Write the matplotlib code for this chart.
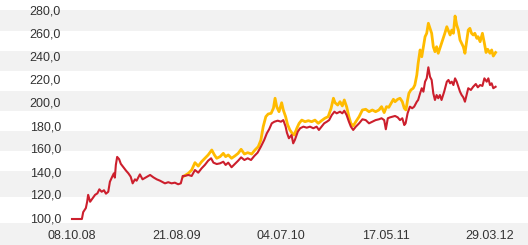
import matplotlib
matplotlib.use("Agg")
import matplotlib.pyplot as plt
import matplotlib.dates as mdates
from matplotlib.patches import Rectangle
import datetime as dt

# ---------------- data ----------------
start_date = "08.10.08"
x_tick_labels = ["08.10.08", "21.08.09", "04.07.10", "17.05.11", "29.03.12"]
y_ticks = [100, 120, 140, 160, 180, 200, 220, 240, 260, 280]

# days since start_date, and index values (red series)
red_days = [0, 30, 34, 42, 46, 49, 55, 60, 70, 77, 83, 90, 97, 103, 110, 115, 122, 127, 130, 133,
            137, 143, 148, 156, 164, 171, 178, 184, 191, 196, 206, 214, 224, 237, 247, 257, 267, 282,
            292, 302, 312, 322, 330, 336, 343, 353, 363, 373, 383, 393, 403, 413, 422, 429, 439, 449,
            459, 466, 474, 484, 494, 504, 513, 523, 533, 543, 553, 563, 573, 583, 591, 598, 606, 614,
            624, 634, 641, 648, 652, 658, 666, 671, 676, 685, 692, 702, 712, 722, 732, 742, 749, 757,
            765, 773, 780, 788, 796, 803, 813, 820, 826, 833, 840, 846, 853, 861, 871, 881, 891, 901,
            911, 921, 931, 939, 947, 952, 958, 965, 972, 980, 988, 995, 1002, 1008, 1012, 1018, 1025,
            1032, 1038, 1046, 1050, 1056, 1061, 1066, 1071, 1076, 1081, 1086, 1091, 1096, 1101, 1106,
            1111, 1116, 1121, 1129, 1137, 1142, 1147, 1152, 1157, 1162, 1167, 1172, 1177, 1182, 1187,
            1192, 1197, 1202, 1210, 1217, 1225, 1231, 1238, 1245, 1251, 1258, 1263, 1268, 1273, 1278,
            1285]
red_vals = [100, 100, 106, 109.5, 115, 121, 115, 117, 121, 122.3, 125.8, 123.7, 125, 122, 123.7,
            132.4, 136.8, 139.7, 136, 147, 154, 152, 148, 145, 142, 139.7, 136.8, 131, 134.5, 133.3,
            138.8, 134.5, 136.2, 138.3, 136.2, 134.5, 133.3, 131, 132, 131, 131.6, 130.2, 131, 137.4,
            137.5, 138.3, 137.4, 142.6, 140.3, 144, 147, 150.7, 152.8, 149, 147.8, 148.4, 149.8, 147,
            149, 145, 147.8, 150.7, 153.6, 151.3, 152.8, 151.3, 154.8, 157.7, 162.9, 168.7, 174.5,
            178, 183.2, 184.6, 185.5, 184.6, 186, 180.3, 175, 170.2, 173, 165.8, 168.7, 176, 178.9,
            180.3, 179.4, 180.3, 178.9, 180.3, 177.4, 180.3, 183.2, 184.6, 186, 190.4, 193.3, 191.9,
            193.3, 191.9, 194.2, 190.4, 184.6, 180.3, 177.4, 180.3, 183.2, 186.7, 186, 183.2, 184.6,
            186, 186.7, 187.6, 186, 178, 187.6, 188.4, 189, 189.6, 188.4, 186, 187.6, 181.7, 183.2,
            191.9, 197.7, 196.3, 197.7, 202, 203.5, 209.3, 213.7, 210.7, 219.4, 222.3, 231.9, 223.7,
            220.9, 209.3, 203.5, 207.8, 205, 207.8, 203.5, 210.7, 219.4, 220.9, 218, 219.4, 216.5,
            222.3, 219.4, 215, 210.7, 207.8, 205.8, 202, 207.8, 213.7, 212.2, 215, 217.4, 214.5,
            216.5, 215.7, 222.3, 219.4, 222.3, 216.5, 218, 213.7, 215]

# yellow series
yel_days = [338, 353, 363, 373, 383, 393, 403, 413, 424, 432, 439, 449, 459, 466, 474, 484, 494,
            504, 513, 523, 533, 545, 555, 565, 573, 580, 588, 595, 604, 611, 616, 621, 628, 636, 641,
            648, 654, 661, 668, 674, 682, 689, 697, 707, 717, 727, 737, 747, 757, 767, 777, 786, 793,
            798, 806, 813, 820, 826, 833, 840, 846, 853, 861, 871, 881, 891, 901, 911, 921, 931, 939,
            947, 954, 961, 968, 975, 980, 988, 995, 1002, 1008, 1013, 1018, 1022, 1028, 1035, 1040,
            1046, 1050, 1056, 1061, 1066, 1071, 1076, 1081, 1086, 1091, 1096, 1101, 1106, 1111, 1116,
            1121, 1126, 1131, 1137, 1142, 1147, 1152, 1157, 1162, 1167, 1172, 1177, 1182, 1187, 1192,
            1197, 1202, 1207, 1212, 1217, 1222, 1228, 1232, 1238, 1245, 1251, 1256, 1261, 1268, 1273,
            1278, 1285]
yel_vals = [137, 139.7, 142.6, 149, 146, 149.8, 152.8, 155.7, 160, 155.7, 152.8, 154.2, 157.1,
            154.2, 155.7, 152.8, 154.8, 157.1, 160.6, 156.5, 157.7, 156.5, 160, 162.9, 168.7, 180.3,
            189, 191.3, 191.9, 196.3, 205, 197.7, 193.3, 201.1, 194.8, 189, 182, 177.4, 174.5, 173,
            178.9, 183.2, 186, 184.6, 185.5, 184.6, 186, 183.2, 185.5, 187.6, 189, 196.3, 205, 201.1,
            199.1, 202, 198.3, 203.5, 197.7, 189, 183.2, 180.9, 184.6, 189, 194.8, 195.4, 193.3,
            194.8, 193.3, 194.8, 197.7, 192.5, 197.7, 197.1, 200.6, 204.1, 202, 204.1, 205, 202,
            196.3, 194.8, 203.5, 209.3, 212.2, 213.7, 216.5, 225.2, 235.4, 247, 241.1, 249.8, 258.5,
            261.5, 270.2, 265.8, 261.5, 249.8, 245.5, 249.8, 244.1, 248.4, 252.8, 257.1, 261.5,
            267.2, 263.7, 260, 264.3, 261.5, 276.5, 268.7, 264.3, 255.7, 252.8, 249.8, 244.1, 254.2,
            264.3, 265.8, 261.5, 260, 261.5, 257.1, 258.5, 254.2, 261.5, 252.8, 244.8, 247.6, 244.1,
            247, 241.7, 244.8]

# ---------------- layout ----------------
W, H, DPI = 528, 245, 100
RED = "#cc1f2d"
YELLOW = "#ffbb00"
BAND = "#f2f2f2"
TEXT = "#333333"

plt.rcParams["font.family"] = ["Liberation Sans", "DejaVu Sans"]
fig = plt.figure(figsize=(W / DPI, H / DPI), dpi=DPI, facecolor="white")

ax = fig.add_axes([0, 0, 1, 1])
ax.patch.set_visible(False)
ax.set_axis_off()

# decorative horizontal bands (pixel rows from top)
bands_px = [(10, 31), (51, 71), (91, 111), (131, 151), (171, 197), (223, 245)]
for top, bot in bands_px:
    ax.add_patch(Rectangle((0, 1 - bot / H), 1, (bot - top) / H,
                           transform=ax.transAxes, facecolor=BAND,
                           edgecolor="none", zorder=0))

d0 = dt.datetime.strptime(start_date, "%d.%m.%y")
x0 = mdates.date2num(d0)
tick_dates = [mdates.date2num(dt.datetime.strptime(s, "%d.%m.%y")) for s in x_tick_labels]

# pixel mapping: first tick at px 72, last tick at px 490; 100 at px 219, 280 at px 12
px_first, px_last = 72, 490
span = tick_dates[-1] - tick_dates[0]
ppd = (px_last - px_first) / span
ax.set_xlim(tick_dates[0] - px_first / ppd, tick_dates[0] + (W - px_first) / ppd)
py100, py280 = 219, 12
ppv = (py100 - py280) / (y_ticks[-1] - y_ticks[0])
ax.set_ylim(100 - (H - py100) / ppv, 100 + py100 / ppv)

rx = [x0 + d for d in red_days]
yx = [x0 + d for d in yel_days]
ax.plot(yx, yel_vals, color=YELLOW, lw=2.0, zorder=2, solid_joinstyle="round")
ax.plot(rx, red_vals, color=RED, lw=1.5, zorder=3, solid_joinstyle="round")

ytr = ax.get_yaxis_transform()
for v in y_ticks:
    ax.text(61 / W, v, f"{v:.1f}".replace(".", ","), transform=ytr, ha="right",
            va="center", fontsize=9, color=TEXT, zorder=4)
xtr = ax.get_xaxis_transform()
for s, xd in zip(x_tick_labels, tick_dates):
    ax.text(xd, 1 - 236 / H, s, transform=xtr, ha="center", va="center",
            fontsize=9, color=TEXT, zorder=4)

fig.savefig("out.png", dpi=DPI, facecolor="white")
